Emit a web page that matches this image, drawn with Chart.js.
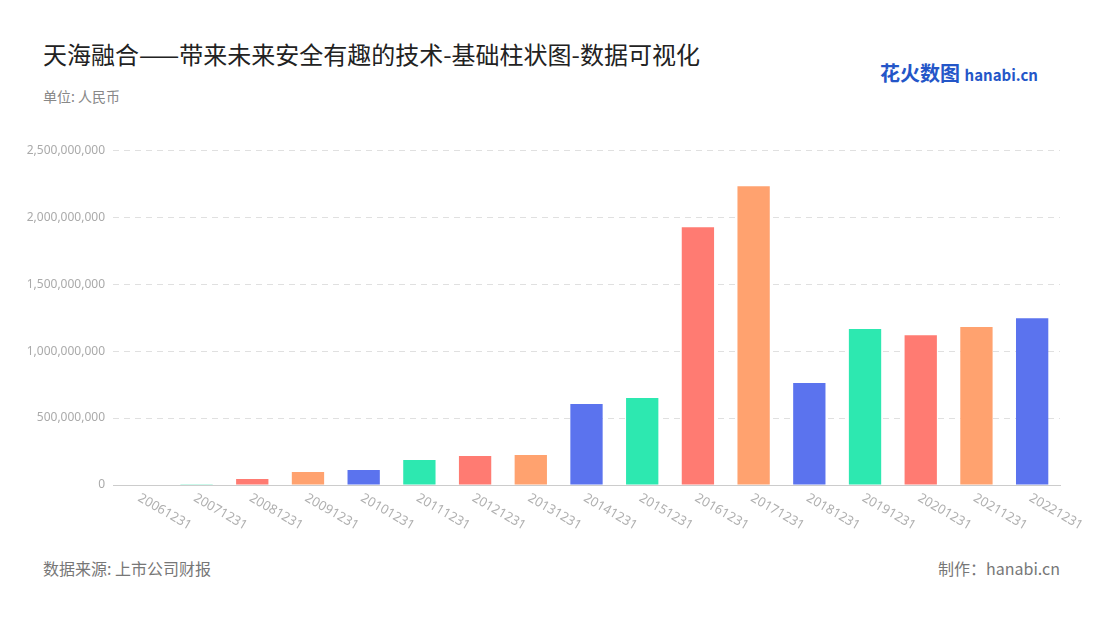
<!DOCTYPE html>
<html>
<head>
<meta charset="utf-8">
<script src="https://cdn.jsdelivr.net/npm/chart.js@4"></script>
<style>
  body { margin: 0; width: 1100px; height: 620px; background: #fff; font-family: "Noto Sans CJK SC", "Noto Sans", sans-serif; position: relative; overflow: hidden; }
  .title { position: absolute; left: 43px; top: 36px; font-size: 24px; color: #222; }
  .unit { position: absolute; left: 43px; top: 86px; font-size: 14px; color: #888; }
  .logo { position: absolute; right: 62px; top: 58px; font-size: 20px; font-weight: bold; color: #2456c8; }
  .logo small { font-size: 15px; color: #2456c8; }
  .src { position: absolute; left: 43px; top: 556px; font-size: 16px; color: #777; }
  .maker { position: absolute; right: 40px; top: 556px; font-size: 16px; color: #777; }
  #wrap { position: absolute; left: 0; top: 135px; width: 1100px; height: 410px; }
</style>
</head>
<body>
<div class="title">天海融合——带来未来安全有趣的技术-基础柱状图-数据可视化</div>
<div class="unit">单位: 人民币</div>
<div class="logo">花火数图 <small>hanabi.cn</small></div>
<div id="wrap"><canvas id="c"></canvas></div>
<div class="src">数据来源: 上市公司财报</div>
<div class="maker">制作：hanabi.cn</div>
<script>
// Data
const categories = ["20061231","20071231","20081231","20091231","20101231","20111231","20121231","20131231","20141231","20151231","20161231","20171231","20181231","20191231","20201231","20211231","20221231"];
const values = [3000000, 2000000, 45000000, 97000000, 112000000, 187000000, 216000000, 224000000, 604000000, 649000000, 1925000000, 2231000000, 761000000, 1164000000, 1119000000, 1179000000, 1246000000];
const palette = ["#5b73ee", "#2de8b0", "#ff7b72", "#ffa26f"];
const yTicks = [0, 500000000, 1000000000, 1500000000, 2000000000, 2500000000];

const NUM = new Intl.NumberFormat('en-US');

// Slanted x labels drawn at tick positions
const slantLabels = {
    id: 'slantLabels',
    afterDraw(chart) {
        const ctx = chart.ctx;
        const xs = chart.scales.x;
        ctx.save();
        ctx.font = '13px "Noto Sans", sans-serif';
        ctx.fillStyle = '#b0b0b0';
        ctx.textBaseline = 'middle';
        categories.forEach((c, i) => {
            const x = xs.getPixelForTick(i);
            ctx.save();
            ctx.translate(x - 2, chart.chartArea.bottom + 12);
            ctx.rotate(Math.PI / 6);
            ctx.fillText(c, 0, 0);
            ctx.restore();
        });
        ctx.restore();
    }
};

new Chart(document.getElementById('c'), {
    type: 'bar',
    data: {
        labels: categories,
        datasets: [{
            data: values,
            backgroundColor: categories.map((_, i) => palette[i % 4]),
            barPercentage: 0.58,
            categoryPercentage: 1
        }]
    },
    options: {
        responsive: true,
        maintainAspectRatio: false,
        animation: false,
        layout: { padding: { top: 10, right: 40 } },
        plugins: { legend: { display: false }, tooltip: { enabled: false } },
        scales: {
            x: {
                grid: { display: false },
                border: { color: '#ccc' },
                ticks: { display: false },
                afterFit(axis) { axis.height = 60; }
            },
            y: {
                min: 0, max: 2500000000,
                afterBuildTicks(axis) { axis.ticks = yTicks.map(v => ({ value: v })); },
                afterFit(axis) { axis.width = 113; },
                grid: { color: '#e0e0e0', drawTicks: false },
                border: { display: false, dash: [6, 5] },
                ticks: { color: '#aaa', font: { size: 12, family: 'Noto Sans' }, padding: 8, callback: v => NUM.format(v) }
            }
        }
    },
    plugins: [slantLabels]
});
</script>
</body>
</html>
